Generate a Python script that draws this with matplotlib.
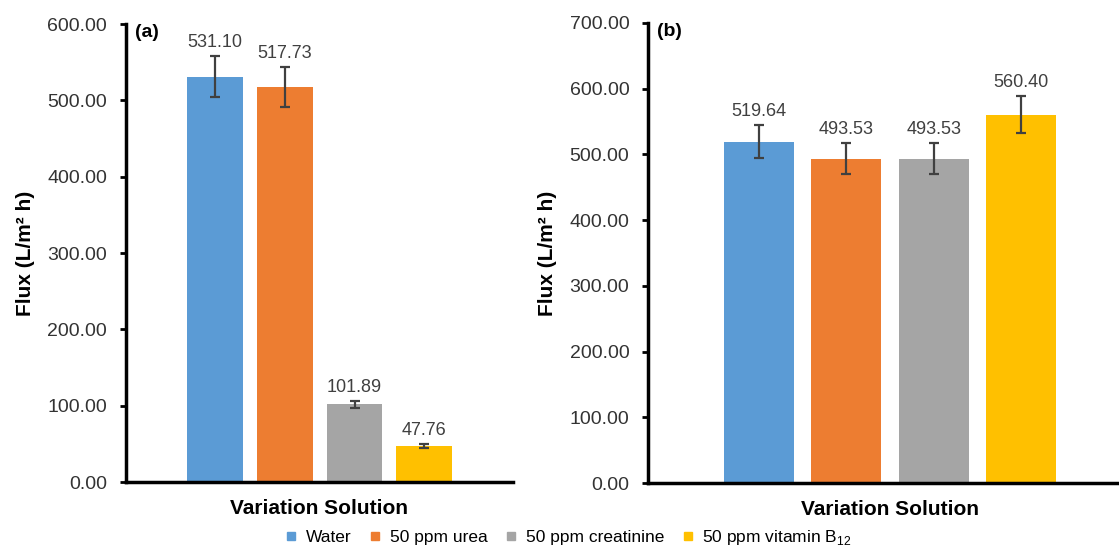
import matplotlib
matplotlib.use("Agg")
import matplotlib.pyplot as plt
from matplotlib.lines import Line2D

plt.rcParams['font.family'] = ['Liberation Sans', 'DejaVu Sans']
plt.rcParams['mathtext.fontset'] = 'custom'
plt.rcParams['mathtext.rm'] = 'Liberation Sans'

# donnees
solutions = ["Water", "50 ppm urea", "50 ppm creatinine", "50 ppm vitamin B$_\\mathrm{12}$"]
flux_a = [531.10, 517.73, 101.89, 47.76]
err_a = [27.0, 26.0, 4.7, 2.6]
flux_b = [519.64, 493.53, 493.53, 560.40]
err_b = [25.0, 24.0, 24.0, 28.0]
couleurs = ["#5B9BD5", "#ED7D31", "#A5A5A5", "#FFC000"]

fig = plt.figure(figsize=(11.19, 5.5), dpi=100)
ax_a = fig.add_axes([0.1126, 0.1236, 0.3458, 0.8327])
# l'axe (b) deborde a droite comme dans l'original
ax_b = fig.add_axes([0.5791, 0.1218, 0.4325, 0.8364])


def panneau(ax, valeurs, erreurs, ymax, xlim, lettre, xl):
    pos = range(len(valeurs))
    ax.bar(pos, valeurs, width=0.80, color=couleurs, zorder=2)
    ax.errorbar(pos, valeurs, yerr=erreurs, fmt="none", ecolor="#404040",
                elinewidth=1.6, capsize=3.8, capthick=1.6, zorder=3)
    for x, v, e in zip(pos, valeurs, erreurs):
        ax.annotate("{:.2f}".format(v), (x, v + e), xytext=(0, 3.5),
                    textcoords="offset points", ha="center", va="bottom",
                    fontsize=13, color="#404040")
    ax.set_ylim(0, ymax)
    ax.set_xlim(xlim)
    ax.set_yticks(range(0, ymax + 1, 100))
    ax.set_yticklabels(["{:.2f}".format(t) for t in range(0, ymax + 1, 100)])
    ax.tick_params(axis="y", labelsize=14, width=2, length=4, pad=9.5,
                   colors="black", labelcolor="#333333")
    ax.set_xticks([])
    for s in ("top", "right"):
        ax.spines[s].set_visible(False)
    for s in ("left", "bottom"):
        ax.spines[s].set_linewidth(2.5)
    ax.set_xlabel("Variation Solution", fontsize=15, fontweight="bold", labelpad=12)
    ax.set_ylabel("Flux (L/m² h)", fontsize=15, fontweight="bold", labelpad=9)
    ax.text(xl, 1.0, lettre, transform=ax.transAxes, fontsize=14,
            fontweight="bold", va="top", ha="left")


panneau(ax_a, flux_a, err_a, 600, (-1.275, 4.27), "(a)", 0.023)
panneau(ax_b, flux_b, err_b, 700, (-1.27, 4.27), "(b)", 0.019)

poignees = [Line2D([], [], marker="s", linestyle="none", markersize=6,
                   color=c) for c in couleurs]
fig.legend(poignees, solutions, loc="center", bbox_to_anchor=(0.508, 0.022),
           ncol=4, frameon=False, fontsize=12.5, handletextpad=0.5,
           columnspacing=1.0, handlelength=0.7)

fig.savefig("out.png", dpi=100)
